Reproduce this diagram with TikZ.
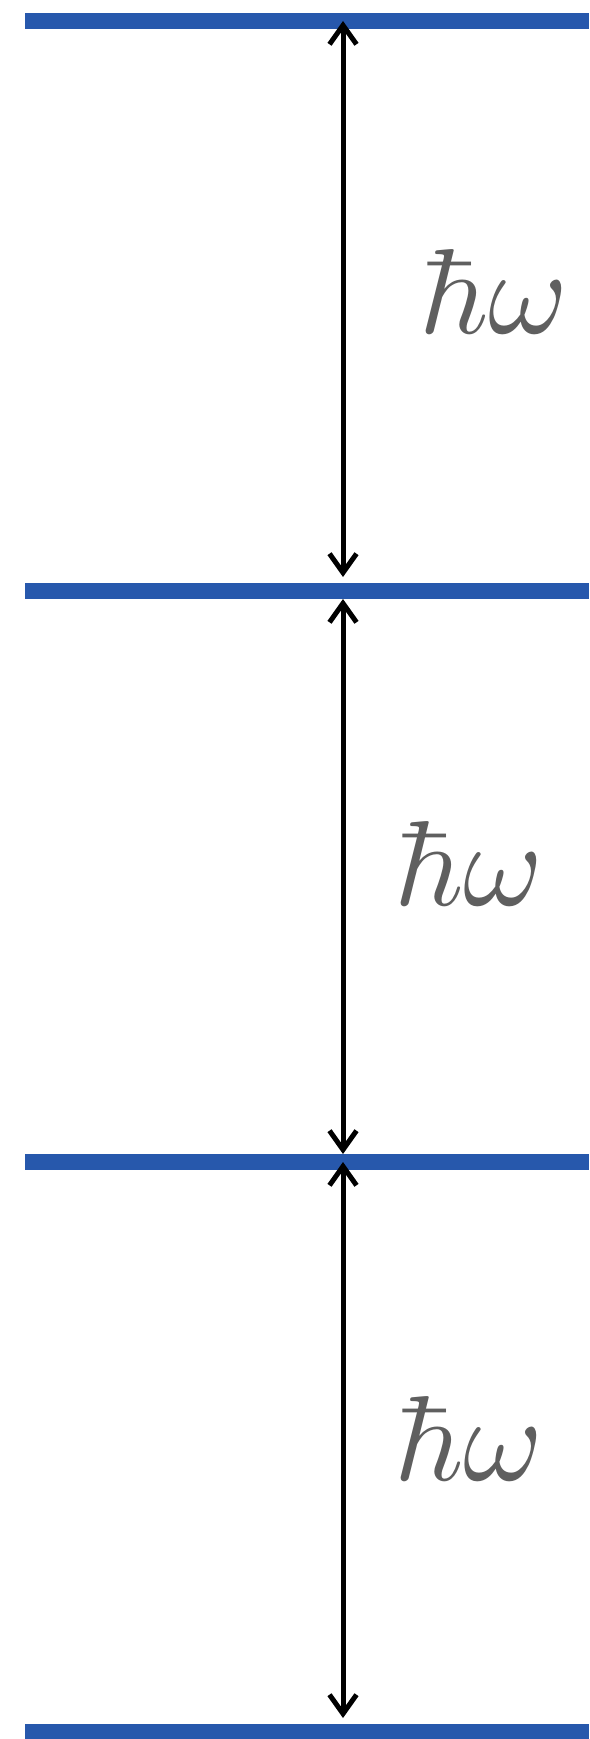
\documentclass[tikz,border=0pt]{standalone}
\usepackage{graphicx}
\usetikzlibrary{arrows.meta}
\definecolor{levelblue}{HTML}{2758AC}
\definecolor{labelgray}{HTML}{5F5F5F}
\newcommand{\hw}{\scalebox{12.1}{$\hbar\omega$}}
\begin{document}
\begin{tikzpicture}[x=1pt,y=-1pt,
  level/.style={draw=levelblue,line width=16pt},
  gap/.style={draw=black,line width=5pt,{Straight Barb[length=19pt,width=27pt,line width=5pt]}-{Straight Barb[length=19pt,width=27pt,line width=5pt]}},
  energy/.style={text=labelgray,inner sep=0pt,anchor=base west}]
\useasboundingbox (0,0) rectangle (589,1739);
% levels
\draw[level] (25,21) -- (589,21);
\draw[level] (25,591) -- (589,591);
\draw[level] (25,1162) -- (589,1162);
\draw[level] (25,1732) -- (589,1732);
% arrow endpoints
\coordinate (a1) at (343,21);
\coordinate (b1) at (343,577);
\coordinate (a2) at (343,599);
\coordinate (b2) at (343,1154);
\coordinate (a3) at (343,1162);
\coordinate (b3) at (343,1718);
\draw[gap] (a1) -- (b1);
\draw[gap] (a2) -- (b2);
\draw[gap] (a3) -- (b3);
% labels
\node[energy] (e1) at (419,333) {\hw};
\node[energy] (e2) at (394,905) {\hw};
\node[energy] (e3) at (394,1480) {\hw};
\end{tikzpicture}
\end{document}
